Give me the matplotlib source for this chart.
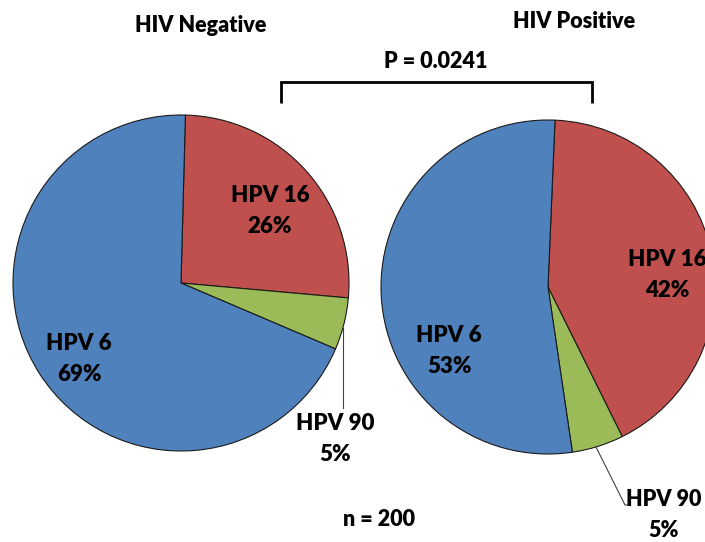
import matplotlib
matplotlib.use("Agg")
import matplotlib.pyplot as plt

# data (percent of HPV types by HIV status)
hpv_types = ['HPV 16', 'HPV 90', 'HPV 6']
hiv_negative = [26, 5, 69]
hiv_positive = [42, 5, 53]
slice_colors = ['#C0504D', '#9BBB59', '#4F81BD']

W, H = 705, 542
plt.rcParams['font.family'] = ['Lato', 'DejaVu Sans']

fig = plt.figure(figsize=(W / 100, H / 100), dpi=100)
ax = fig.add_axes([0, 0, 1, 1])


def y(v):
    # image pixel row -> data y
    return H - v


def draw_pie(values, cx, cy, r, start):
    ax.pie(values, colors=slice_colors, startangle=start, counterclock=False,
           center=(cx, y(cy)), radius=r, frame=True,
           wedgeprops=dict(edgecolor='#1a1a1a', linewidth=0.8))


def label(txt, x, yy, size=16):
    ax.text(x, y(yy), txt, ha='center', va='center', fontsize=size,
            fontweight='heavy', color='black', linespacing=1.55)


draw_pie(hiv_negative, 181, 283, 168, 88.5)
draw_pie(hiv_positive, 548, 287, 167, 87.6)
ax.set_xlim(0, W)
ax.set_ylim(0, H)
ax.set_aspect('equal')
ax.axis('off')

# slice labels
label(f'{hpv_types[0]}\n{hiv_negative[0]}%', 270, 211)
label(f'{hpv_types[2]}\n{hiv_negative[2]}%', 79, 359)
label(f'{hpv_types[1]}\n{hiv_negative[1]}%', 335, 439)
label(f'{hpv_types[0]}\n{hiv_positive[0]}%', 667, 275)
label(f'{hpv_types[2]}\n{hiv_positive[2]}%', 449, 351)
label(f'{hpv_types[1]}\n{hiv_positive[1]}%', 664, 515, 15.5)

# leader lines
ax.plot([343, 343], [y(328), y(408)], color='#404040', lw=0.8)
ax.plot([596, 625, 629], [y(447), y(505), y(505)], color='#404040', lw=0.8)

# titles and annotations
label('HIV Negative', 201, 25, 15.5)
label('HIV Positive', 574, 21, 15.5)
label('P = 0.0241', 436, 62, 15.5)
label('n = 200', 379, 519, 15.5)

# significance bracket
ax.plot([281, 281, 592, 592], [y(103), y(82), y(82), y(103)],
        color='black', lw=2, solid_capstyle='butt', solid_joinstyle='miter')

fig.savefig('out.png', dpi=100)
